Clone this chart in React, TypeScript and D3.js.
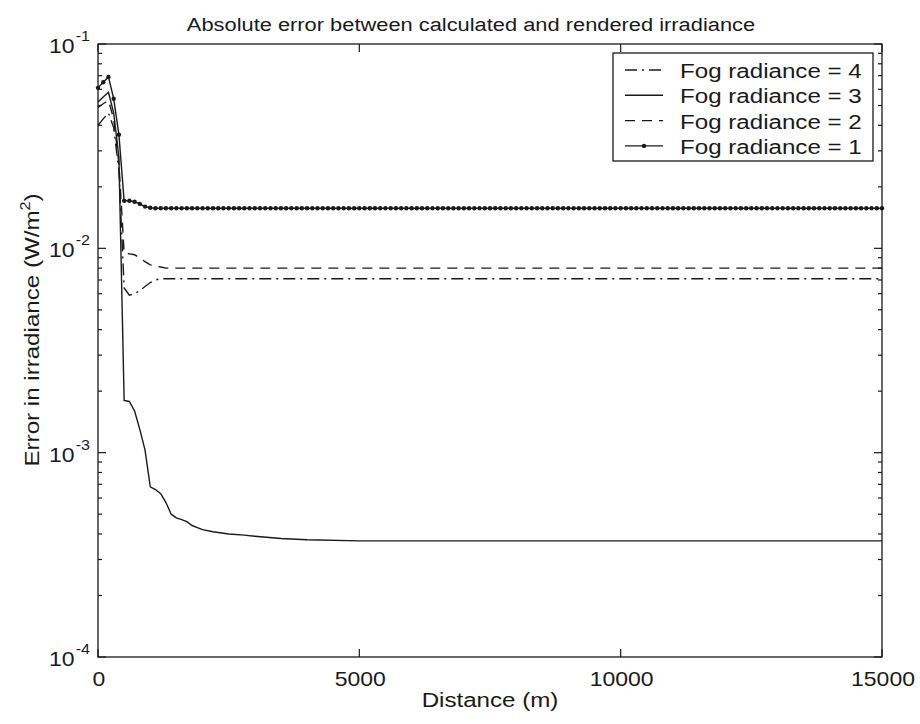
import React from "react";
import * as d3 from "d3";

const fog1Distance = [
  0, 100, 200, 300, 400, 500, 600, 700, 800, 900, 1000, 1100, 1200, 1300, 1400, 1500, 1600, 1700, 1800, 1900,
  2000, 2100, 2200, 2300, 2400, 2500, 2600, 2700, 2800, 2900, 3000, 3100, 3200, 3300, 3400, 3500, 3600, 3700, 3800, 3900,
  4000, 4100, 4200, 4300, 4400, 4500, 4600, 4700, 4800, 4900, 5000, 5100, 5200, 5300, 5400, 5500, 5600, 5700, 5800, 5900,
  6000, 6100, 6200, 6300, 6400, 6500, 6600, 6700, 6800, 6900, 7000, 7100, 7200, 7300, 7400, 7500, 7600, 7700, 7800, 7900,
  8000, 8100, 8200, 8300, 8400, 8500, 8600, 8700, 8800, 8900, 9000, 9100, 9200, 9300, 9400, 9500, 9600, 9700, 9800, 9900,
  10000, 10100, 10200, 10300, 10400, 10500, 10600, 10700, 10800, 10900, 11000, 11100, 11200, 11300, 11400, 11500, 11600, 11700, 11800, 11900,
  12000, 12100, 12200, 12300, 12400, 12500, 12600, 12700, 12800, 12900, 13000, 13100, 13200, 13300, 13400, 13500, 13600, 13700, 13800, 13900,
  14000, 14100, 14200, 14300, 14400, 14500, 14600, 14700, 14800, 14900, 15000,
];
const fog1Values = [
  0.061, 0.065, 0.069, 0.054, 0.036, 0.0171, 0.0171, 0.0169, 0.0165, 0.0160, 0.0158, 0.0157, 0.0157, 0.0157, 0.0157, 0.0157, 0.0157, 0.0157, 0.0157, 0.0157,
  0.0157, 0.0157, 0.0157, 0.0157, 0.0157, 0.0157, 0.0157, 0.0157, 0.0157, 0.0157, 0.0157, 0.0157, 0.0157, 0.0157, 0.0157, 0.0157, 0.0157, 0.0157, 0.0157, 0.0157,
  0.0157, 0.0157, 0.0157, 0.0157, 0.0157, 0.0157, 0.0157, 0.0157, 0.0157, 0.0157, 0.0157, 0.0157, 0.0157, 0.0157, 0.0157, 0.0157, 0.0157, 0.0157, 0.0157, 0.0157,
  0.0157, 0.0157, 0.0157, 0.0157, 0.0157, 0.0157, 0.0157, 0.0157, 0.0157, 0.0157, 0.0157, 0.0157, 0.0157, 0.0157, 0.0157, 0.0157, 0.0157, 0.0157, 0.0157, 0.0157,
  0.0157, 0.0157, 0.0157, 0.0157, 0.0157, 0.0157, 0.0157, 0.0157, 0.0157, 0.0157, 0.0157, 0.0157, 0.0157, 0.0157, 0.0157, 0.0157, 0.0157, 0.0157, 0.0157, 0.0157,
  0.0157, 0.0157, 0.0157, 0.0157, 0.0157, 0.0157, 0.0157, 0.0157, 0.0157, 0.0157, 0.0157, 0.0157, 0.0157, 0.0157, 0.0157, 0.0157, 0.0157, 0.0157, 0.0157, 0.0157,
  0.0157, 0.0157, 0.0157, 0.0157, 0.0157, 0.0157, 0.0157, 0.0157, 0.0157, 0.0157, 0.0157, 0.0157, 0.0157, 0.0157, 0.0157, 0.0157, 0.0157, 0.0157, 0.0157, 0.0157,
  0.0157, 0.0157, 0.0157, 0.0157, 0.0157, 0.0157, 0.0157, 0.0157, 0.0157, 0.0157, 0.0157,
];

const fog2Distance = [0, 100, 200, 300, 400, 500, 600, 700, 800, 900, 1000, 1100, 1200, 1300, 2000, 5000, 10000, 15000];
const fog2Values = [0.049, 0.051, 0.053, 0.043, 0.026, 0.0095, 0.0094, 0.0093, 0.009, 0.0086, 0.0083, 0.0082, 0.0081, 0.008, 0.008, 0.008, 0.008, 0.008];

const fog3Distance = [
  0, 100, 200, 300, 400, 500, 600, 700, 800, 900, 1000, 1100, 1200, 1300, 1400, 1500, 1600, 1700, 1800, 1900,
  2000, 2200, 2500, 2800, 3000, 3500, 4000, 5000, 6000, 8000, 10000, 12000, 15000,
];
const fog3Values = [
  0.052, 0.055, 0.058, 0.046, 0.028, 0.0018, 0.00178, 0.0016, 0.0013, 0.00103, 0.00068, 0.00066, 0.00063, 0.00057, 0.0005, 0.00048, 0.00047, 0.00046, 0.00044, 0.00043,
  0.00042, 0.00041, 0.0004, 0.000395, 0.00039, 0.00038, 0.000375, 0.00037, 0.00037, 0.00037, 0.00037, 0.00037, 0.00037,
];

const fog4Distance = [0, 100, 200, 300, 400, 500, 600, 700, 800, 900, 1000, 1100, 1200, 1300, 2000, 5000, 10000, 15000];
const fog4Values = [0.04, 0.043, 0.046, 0.039, 0.024, 0.0064, 0.0059, 0.006, 0.0062, 0.0065, 0.0068, 0.007, 0.0071, 0.0071, 0.0071, 0.0071, 0.0071, 0.0071];

const xTickValues = [0, 5000, 10000, 15000];
const yDecadeExponents = [-4, -3, -2, -1];
const legendLabels = ["Fog radiance = 4", "Fog radiance = 3", "Fog radiance = 2", "Fog radiance = 1"];

const titleText = "Absolute error between calculated and rendered irradiance";
const xLabelText = "Distance (m)";

const FONT = "'Liberation Sans', Arial, Helvetica, sans-serif";
const INK = "#1a1a1a";
const SX = 1.15; // the reference's lettering is wider than Arial

export default function App() {
  const W = 920;
  const H = 724;
  const L = 98, R = 882, T = 44, B = 657;

  const x = d3.scaleLinear().domain([0, 15000]).range([L, R]);
  const y = d3.scaleLog().domain([1e-4, 1e-1]).range([B, T]);

  const line = d3
    .line<[number, number]>()
    .x((d) => x(d[0]))
    .y((d) => y(d[1]));

  const zip = (a: number[], b: number[]) => a.map((v, i) => [v, b[i]] as [number, number]);

  const s1 = zip(fog1Distance, fog1Values);
  const s2 = zip(fog2Distance, fog2Values);
  const s3 = zip(fog3Distance, fog3Values);
  const s4 = zip(fog4Distance, fog4Values);

  const minor: number[] = [];
  for (const e of yDecadeExponents.slice(0, 3)) {
    for (let k = 2; k <= 9; k++) minor.push(k * Math.pow(10, e));
  }

  const dashStyles: { dash?: string; marker?: boolean }[] = [
    { dash: "12,5,2,5" },
    {},
    { dash: "10,7" },
    { marker: true },
  ];

  const legX = 613, legY = 53, legW = 260, legH = 108;
  const rowH = 25.3;

  return (
    <svg
      width={W}
      height={H}
      style={{ position: "absolute", left: 0, top: 0, background: "#fff" }}
      fontFamily={FONT}
    >
      <rect x={0} y={0} width={W} height={H} fill="#fff" />

      <text transform={`translate(471, 31) scale(${SX},1)`} textAnchor="middle" fontSize={19} fill={INK}>
        {titleText}
      </text>

      <g fill="none" stroke={INK} strokeWidth={1.4}>
        <path d={line(s4) || ""} strokeDasharray="12,5,2,5" />
        <path d={line(s3) || ""} />
        <path d={line(s2) || ""} strokeDasharray="10,7" />
        <path d={line(s1) || ""} />
      </g>
      <g fill={INK}>
        {s1.map((d, i) => (
          <circle key={i} cx={x(d[0])} cy={y(d[1])} r={2.2} />
        ))}
      </g>

      <rect x={L} y={T} width={R - L} height={B - T} fill="none" stroke={INK} strokeWidth={1.3} />

      <g stroke={INK} strokeWidth={1.2}>
        {xTickValues.map((v) => (
          <g key={v}>
            <line x1={x(v)} x2={x(v)} y1={B} y2={B - 8} />
            <line x1={x(v)} x2={x(v)} y1={T} y2={T + 8} />
          </g>
        ))}
        {yDecadeExponents.map((e) => {
          const yy = y(Math.pow(10, e));
          return (
            <g key={e}>
              <line x1={L} x2={L + 8} y1={yy} y2={yy} />
              <line x1={R} x2={R - 8} y1={yy} y2={yy} />
            </g>
          );
        })}
        {minor.map((v, i) => (
          <g key={i}>
            <line x1={L} x2={L + 4} y1={y(v)} y2={y(v)} />
            <line x1={R} x2={R - 4} y1={y(v)} y2={y(v)} />
          </g>
        ))}
      </g>

      <g fill={INK}>
        {xTickValues.map((v) => (
          <text
            key={v}
            transform={`translate(${x(v) + 1}, ${B + 29}) scale(${SX},1)`}
            textAnchor="middle"
            fontSize={20}
          >
            {String(v)}
          </text>
        ))}
      </g>
      <text
        transform={`translate(${(L + R) / 2}, 707) scale(${SX},1)`}
        textAnchor="middle"
        fontSize={21}
        fill={INK}
      >
        {xLabelText}
      </text>

      <g fill={INK}>
        {yDecadeExponents.map((e) => {
          const yy = y(Math.pow(10, e));
          return (
            <text
              key={e}
              transform={`translate(${L - 8}, ${yy + 9}) scale(${SX},1)`}
              textAnchor="end"
              fontSize={20}
            >
              10
              <tspan dx={1} dy={-12} fontSize={14}>{"-" + String(-e)}</tspan>
            </text>
          );
        })}
      </g>

      <text
        transform={`translate(39, 330) rotate(-90) scale(${SX},1)`}
        textAnchor="middle"
        fontSize={21}
        fill={INK}
      >
        Error in irradiance (W/m
        <tspan dy={-9} fontSize={14}>2</tspan>
        <tspan dy={9}>)</tspan>
      </text>

      <rect x={legX} y={legY} width={legW} height={legH} fill="#fff" stroke={INK} strokeWidth={1.3} />
      {legendLabels.map((lab, i) => {
        const ry = legY + 17 + i * rowH;
        const st = dashStyles[i];
        return (
          <g key={lab}>
            <line
              x1={legX + 12}
              x2={legX + 50}
              y1={ry}
              y2={ry}
              stroke={INK}
              strokeWidth={1.4}
              strokeDasharray={st.dash}
            />
            {st.marker && <circle cx={legX + 31} cy={ry} r={2.2} fill={INK} />}
            <text transform={`translate(${legX + 67}, ${ry + 8}) scale(${SX},1)`} fontSize={21} fill={INK}>
              {lab}
            </text>
          </g>
        );
      })}
    </svg>
  );
}
